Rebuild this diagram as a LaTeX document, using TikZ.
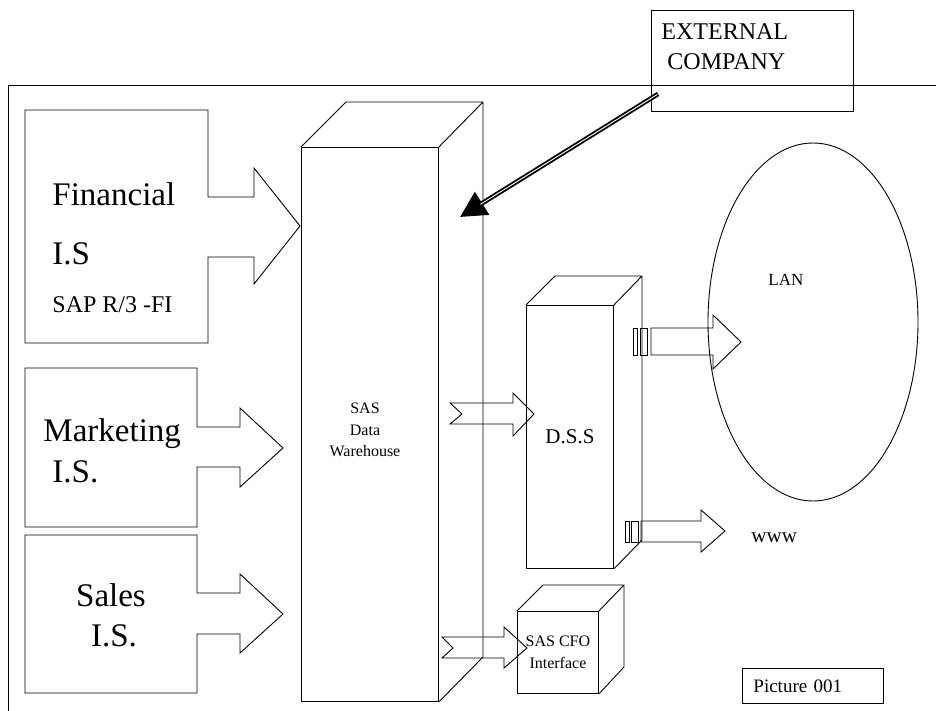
\documentclass[tikz,border=0pt]{standalone}
\usepackage{fontspec}
\setmainfont{Liberation Serif}
\usetikzlibrary{arrows.meta,shapes.geometric}

\begin{document}
\begin{tikzpicture}[x=1pt, y=-1pt, line width=0.9pt,
  big/.style={font=\fontsize{33}{40}\selectfont, inner sep=0pt},
  mid/.style={font=\fontsize{24}{30}\selectfont, inner sep=0pt},
  small/.style={font=\fontsize{16}{21.5}\selectfont, align=center},
  face/.style={draw, inner sep=0pt, anchor=north west},
  block/.style={draw, line join=miter},
  heavy/.style={line width=4.6pt, -{Triangle[length=26pt 0 0, width=26pt 0 0]}},
  heavycore/.style={white, line width=0.9pt, shorten >=24pt, shorten <=1pt}]
\useasboundingbox (0,0) rectangle (936,711);
\draw (936,85) -- (8,85) -- (8,711);
% source systems
\draw[block] (25,110) -| (208,197) -| (254,168) -- (300,226) -- (254,284) |- (208,257) |- (25,343) -- cycle;
\draw[block] (25,368) -| (197,427) -| (240,408) -- (283,448) -- (240,487) |- (197,467) |- (25,527) -- cycle;
\draw[block] (25,535) -| (197,593) -| (240,574) -- (283,614) -- (240,653) |- (197,634) |- (25,693) -- cycle;
\node[big, anchor=base west] (fin) at (52,206) {Financial};
\node[big, anchor=base west] (finis) at (52,264) {I.S};
\node[mid, anchor=base west] (finsap) at (52,312) {SAP R/3 -FI};
\node[big, anchor=base west] (mkt) at (43,441) {Marketing};
\node[big, anchor=base west] (mktis) at (52,482) {I.S.};
\node[big, anchor=base] (sal) at (111,606) {Sales};
\node[big, anchor=base] (salis) at (114,646) {I.S.};
% warehouse
\node[face, minimum width=137pt, minimum height=554pt] (wh) at (301,147) {};
\draw (wh.north west) -- ++(45,-45) -- ++(137,0) coordinate (whb) -- ++(0,555) -- (wh.south east) (wh.north east) -- (whb);
\node[small] (whtxt) at (365,430) {SAS\\Data\\Warehouse};
% external company
\node[face, minimum width=202pt, minimum height=101pt] (ext) at (651,10) {};
\node[mid, anchor=base west] (ext1) at (661,40) {EXTERNAL};
\node[mid, anchor=base west] (ext2) at (667,70) {COMPANY};
\coordinate (extfoot) at (658,94);
\coordinate (whhit) at (460,217);
\draw[heavy] (extfoot) -- (whhit);
\draw[heavycore] (extfoot) -- (whhit);
% d.s.s and cfo
\node[face, minimum width=87pt, minimum height=263pt, font=\fontsize{21}{24}\selectfont] (dss) at (526,305) {D.S.S};
\draw (dss.north west) -- ++(29,-29) -- ++(87,0) coordinate (dssb) -- ++(0,264) -- (dss.south east) (dss.north east) -- (dssb);
\node[face, small, minimum width=81pt, minimum height=82pt] (cfo) at (517,611) {SAS CFO\\Interface};
\draw (cfo.north west) -- ++(26,-26) -- ++(81,0) coordinate (cfob) -- ++(0,82) -- (cfo.south east) (cfo.north east) -- (cfob);
\draw[block] (450,403) -| (513,393) -- (534,414) -- (513,436) |- (450,424) -- (462,414) -- cycle;
\draw[block] (442,637) -| (504,627) -- (527,648) -- (504,668) |- (442,658) -- (453,648) -- cycle;
% lan and www
\node[draw, ellipse, minimum width=210pt, minimum height=358pt, inner sep=0pt] (lan) at (813,322) {};
\node[anchor=base west, inner sep=0pt, font=\fontsize{17}{20}\selectfont] (lantxt) at (768,285) {LAN};
\draw (633,328) rectangle (637,355) (640,328) rectangle (647,355);
\draw[block] (651,328) -| (713,315) -- (741,342) -- (713,369) |- (651,355) -- cycle;
\draw (625,521) rectangle (629,542) (631,521) rectangle (638,542);
\draw[block] (641,521) -| (701,510) -- (725,531) -- (701,552) |- (641,542) -- cycle;
\node[anchor=base west, inner sep=0pt, font=\fontsize{21}{24}\selectfont] (www) at (751,542) {www};
\node[draw, anchor=north west, minimum height=35pt, text width=119pt, inner xsep=11pt, inner ysep=0pt, font=\fontsize{19}{22}\selectfont] (pic) at (742,668) {Picture 001};
\end{tikzpicture}
\end{document}
